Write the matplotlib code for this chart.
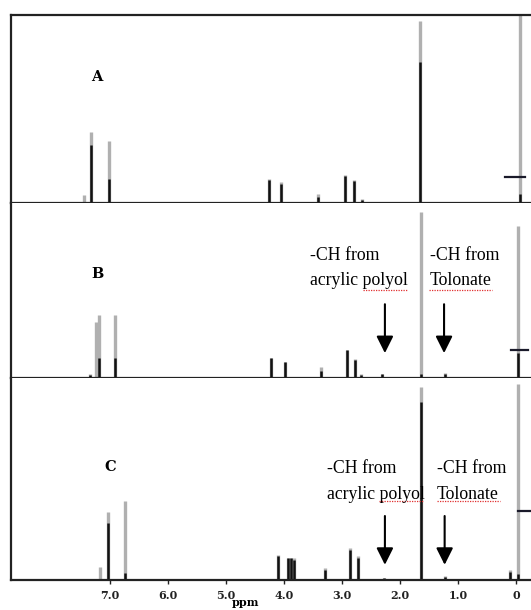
import numpy as np
import matplotlib
matplotlib.use("Agg")
import matplotlib.pyplot as plt

# peak positions (ppm) and stick heights (fraction of panel height)
ppm_a = [7.45, 7.32, 7.02, 4.26, 4.05, 3.41, 2.94, 2.79, 2.66, 1.66, -0.07]
grey_a = [0.04, 0.38, 0.33, 0.13, 0.11, 0.05, 0.15, 0.125, 0.02, 0.97, 1.0]
dark_a = [0.0, 0.31, 0.13, 0.12, 0.10, 0.03, 0.145, 0.115, 0.015, 0.75, 0.05]

ppm_b = [7.35, 7.24, 7.19, 6.91, 4.22, 3.99, 3.36, 2.91, 2.78, 2.68, 2.31, 1.64, 1.23, -0.03]
grey_b = [0.02, 0.32, 0.36, 0.36, 0.11, 0.09, 0.06, 0.16, 0.105, 0.02, 0.023, 0.95, 0.026, 0.87]
dark_b = [0.015, 0.0, 0.11, 0.11, 0.11, 0.09, 0.04, 0.16, 0.10, 0.015, 0.02, 0.02, 0.02, 0.14]

ppm_c = [7.17, 7.04, 6.74, 4.11, 3.93, 3.88, 3.82, 3.29, 2.86, 2.72, 2.27, 1.63, 1.23, 0.11, -0.03]
grey_c = [0.066, 0.335, 0.39, 0.125, 0.11, 0.11, 0.11, 0.06, 0.16, 0.12, 0.012, 0.955, 0.02, 0.05, 0.97]
dark_c = [0.0, 0.28, 0.035, 0.12, 0.11, 0.11, 0.10, 0.05, 0.15, 0.11, 0.01, 0.88, 0.015, 0.04, 0.03]

# short horizontal marks near TMS: (ppm start, ppm end, height)
hmark_a = (0.19, -0.155, 0.14)
hmark_b = (0.086, -0.207, 0.16)
hmark_c = (-0.034, -0.24, 0.34)

panel_names = ["A", "B", "C"]
label_pos = [(7.22, 0.67), (7.21, 0.595), (7.0, 0.56)]

# annotation arrows and note positions
arrow_ppm_b = [2.26, 1.24]
arrow_ppm_c = [2.26, 1.23]
note_left_b = [3.55, 1.49]
note_left_c = [3.26, 1.36]

tick_ppm = [7, 6, 5, 4, 3, 2, 1, 0]
tick_labels = ["7.0", "6.0", "5.0", "4.0", "3.0", "2.0", "1.0", "0"]

fig = plt.figure(figsize=(5.31, 6.10), dpi=100)

boxes = [
    [0.0207, 0.6672, 0.9793, 0.3082],
    [0.0207, 0.3811, 0.9793, 0.2861],
    [0.0207, 0.0492, 0.9793, 0.3319],
]
spectra = [(ppm_a, grey_a, dark_a), (ppm_b, grey_b, dark_b), (ppm_c, grey_c, dark_c)]
hmarks = [hmark_a, hmark_b, hmark_c]

axes = []
for i, box in enumerate(boxes):
    ax = fig.add_axes(box)
    pos, grey, dark = spectra[i]
    ax.vlines(pos, 0, grey, color="#b0b0b0", lw=2.4)
    ax.vlines(pos, 0, dark, color="#111111", lw=1.8)
    h0, h1, hy = hmarks[i]
    ax.plot([h0, h1], [hy, hy], color="#1a1a2a", lw=1.6)
    ax.set_xlim(8.707, -0.259)
    ax.set_ylim(0, 1.0)
    ax.set_yticks([])
    for side in ["left", "bottom", "top"]:
        ax.spines[side].set_linewidth(1.6)
        ax.spines[side].set_color("#222222")
    ax.spines["right"].set_visible(False)
    if i > 0:
        ax.spines["top"].set_visible(False)
    lx, ly = label_pos[i]
    ax.text(lx, ly, panel_names[i], ha="center", va="center",
            fontfamily="DejaVu Serif", fontweight="bold", fontsize=10.5)
    axes.append(ax)

# arrows and notes in panels B and C
notes = [
    (axes[1], arrow_ppm_b, note_left_b, 0.42, 0.14, 0.70, 0.555),
    (axes[2], arrow_ppm_c, note_left_c, 0.316, 0.075, 0.55, 0.42),
]
for ax, arr_x, left_x, tail, tip, y1, y2 in notes:
    for x in arr_x:
        ax.annotate("", xy=(x, tip), xytext=(x, tail),
                    arrowprops=dict(arrowstyle="-|>,head_length=0.6,head_width=0.3",
                                    color="black", lw=1.5, mutation_scale=17,
                                    shrinkA=0, shrinkB=0))
    ax.text(left_x[0], y1, "-CH from", ha="left", va="center",
            fontfamily="Liberation Serif", fontsize=12.8)
    ax.text(left_x[0], y2, "acrylic polyol", ha="left", va="center",
            fontfamily="Liberation Serif", fontsize=12.8)
    ax.text(left_x[1], y1, "-CH from", ha="left", va="center",
            fontfamily="Liberation Serif", fontsize=12.8)
    ax.text(left_x[1], y2, "Tolonate", ha="left", va="center",
            fontfamily="Liberation Serif", fontsize=12.8)

# spell-check squiggles under "polyol" and "Tolonate"
squig = dict(color="#e03030", lw=0.9, ls=(0, (1, 1)))
axes[1].plot([2.64, 1.88], [0.504, 0.504], **squig)
axes[1].plot([1.50, 0.414], [0.504, 0.504], **squig)
axes[2].plot([2.36, 1.60], [0.392, 0.392], **squig)
axes[2].plot([1.36, 0.28], [0.392, 0.392], **squig)

for ax in axes[:2]:
    ax.set_xticks([])

axc = axes[2]
axc.set_xticks(tick_ppm)
axc.set_xticklabels(tick_labels, fontfamily="DejaVu Serif", fontweight="bold", fontsize=8)
axc.tick_params(axis="x", direction="out", length=3, width=1, pad=4, colors="#222222")
axc.set_xlabel("ppm", fontfamily="DejaVu Serif", fontweight="bold", fontsize=8)
axc.xaxis.set_label_coords(0.45, -0.085)

fig.savefig("out.png", dpi=100)
